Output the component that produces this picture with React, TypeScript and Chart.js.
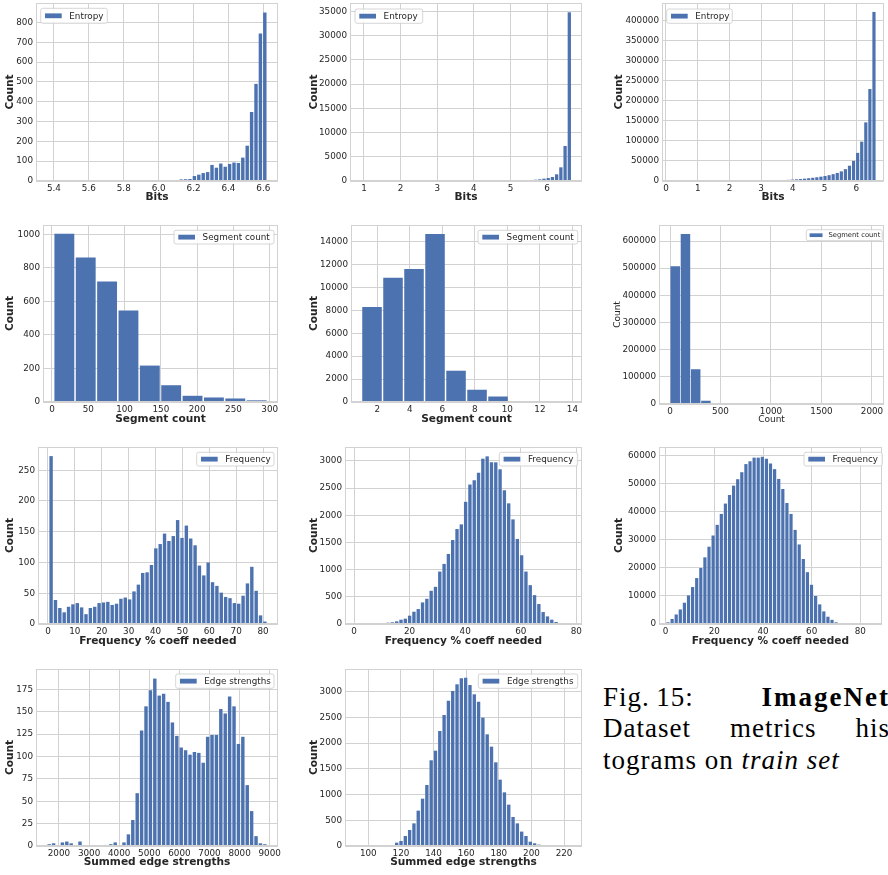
import React, { useEffect, useRef } from "react";
import { Chart, registerables } from "chart.js";

Chart.register(...registerables);

const BAR_COLOR = "#4c72b0";
const GRID_COLOR = "#d2d2d2";
const TEXT_COLOR = "#262626";
const SANS = "'DejaVu Sans', sans-serif";
const SERIF = "'Liberation Serif', 'Times New Roman', serif";

// ---------- Row 1: Entropy (Bits) ----------
const entropySmallXTicks = [5.4, 5.6, 5.8, 6.0, 6.2, 6.4, 6.6];
const entropySmallYTicks = [0, 100, 200, 300, 400, 500, 600, 700, 800];
const entropySmallStart = 5.36;
const entropySmallWidth = 0.02522;
const entropySmallCounts = [
  1, 0, 0, 0, 0, 0, 0, 0, 0, 1, 0, 0, 0, 0, 1, 0, 0, 1, 0, 0, 1, 0, 1, 1, 2, 1,
  2, 3, 4, 5, 8, 9, 10, 25, 32, 40, 45, 81, 67, 88, 72, 86, 93, 91, 118, 178,
  348, 490, 744, 850,
];

const entropyValXTicks = [1, 2, 3, 4, 5, 6];
const entropyValYTicks = [0, 5000, 10000, 15000, 20000, 25000, 30000, 35000];
const entropyValStart = 0.906;
const entropyValWidth = 0.1152;
const entropyValCounts = [
  1, 0, 0, 0, 0, 1, 0, 0, 0, 0, 1, 0, 0, 1, 0, 0, 1, 0, 1, 1, 1, 2, 2, 2, 3, 3,
  4, 5, 6, 8, 10, 14, 18, 24, 32, 42, 55, 70, 100, 140, 200, 270, 345, 480, 620,
  830, 1380, 2825, 7230, 34800,
];

const entropyTrainXTicks = [0, 1, 2, 3, 4, 5, 6];
const entropyTrainYTicks = [0, 50000, 100000, 150000, 200000, 250000, 300000, 350000, 400000];
const entropyTrainStart = 0.19;
const entropyTrainWidth = 0.1286;
const entropyTrainCounts = [
  800, 20, 25, 30, 30, 35, 40, 45, 50, 55, 60, 70, 80, 90, 100, 130, 160, 200,
  260, 330, 420, 540, 700, 900, 1150, 1450, 1850, 2300, 2850, 3500, 4200, 5000,
  5900, 6900, 8000, 9300, 10800, 12500, 14500, 17000, 20000, 24000, 29500,
  38000, 50000, 70000, 98000, 146000, 229000, 421000,
];

// ---------- Row 2: Segment count ----------
const segSmallXTicks = [0, 50, 100, 150, 200, 250, 300];
const segSmallYTicks = [0, 200, 400, 600, 800, 1000];
const segSmallStart = 2.3;
const segSmallWidth = 29.44;
const segSmallCounts = [1003, 862, 718, 546, 217, 100, 37, 27, 21, 10];

const segValXTicks = [2, 4, 6, 8, 10, 12, 14];
const segValYTicks = [0, 2000, 4000, 6000, 8000, 10000, 12000, 14000];
const segValStart = 1.028;
const segValWidth = 1.292;
const segValCounts = [8280, 10850, 11600, 14650, 2730, 1070, 480, 15, 3, 1];

const segTrainXTicks = [0, 500, 1000, 1500, 2000];
const segTrainYTicks = [0, 100000, 200000, 300000, 400000, 500000, 600000];
const segTrainStart = 1;
const segTrainWidth = 101.3;
const segTrainCounts = [
  507000, 626000, 128000, 12000, 1500, 300, 80, 30, 12, 6, 3, 2, 1, 1, 1, 0, 0, 1, 0, 1,
];

// ---------- Row 3: Frequency % coeff needed ----------
const freqSmallXTicks = [0, 10, 20, 30, 40, 50, 60, 70, 80];
const freqSmallYTicks = [0, 50, 100, 150, 200, 250];
const freqSmallStart = 0.35;
const freqSmallWidth = 1.623;
const freqSmallCounts = [
  273, 39, 26, 19, 28, 32, 34, 27, 16, 26, 28, 34, 35, 36, 31, 33, 41, 43, 40,
  53, 64, 83, 84, 96, 123, 130, 147, 135, 143, 169, 140, 160, 139, 128, 95, 79,
  100, 68, 62, 51, 44, 42, 34, 33, 46, 66, 93, 54, 14, 4,
];

const freqValXTicks = [0, 20, 40, 60, 80];
const freqValYTicks = [0, 500, 1000, 1500, 2000, 2500, 3000];
const freqValStart = 0.64;
const freqValWidth = 1.55;
const freqValCounts = [
  0, 0, 1, 2, 3, 6, 18, 24, 31, 49, 79, 98, 153, 226, 275, 397, 464, 611, 684,
  965, 1106, 1289, 1545, 1747, 1833, 2248, 2566, 2645, 2785, 3042, 3085, 2975,
  2975, 2847, 2462, 2220, 1925, 1565, 1265, 965, 715, 531, 367, 220, 140, 80,
  37, 18, 6, 2,
];

const freqTrainXTicks = [0, 20, 40, 60, 80];
const freqTrainYTicks = [0, 10000, 20000, 30000, 40000, 50000, 60000];
const freqTrainStart = 0.12;
const freqTrainWidth = 1.685;
const freqTrainCounts = [
  600, 1800, 3400, 5200, 7600, 10200, 13200, 16400, 20000, 23800, 27600, 31600,
  35400, 39300, 43000, 46100, 49400, 51700, 54200, 57100, 58100, 59400, 59400,
  59700, 59000, 57300, 55300, 51800, 48200, 43200, 39300, 33600, 28400, 23200,
  18500, 14000, 10000, 7000, 4500, 2600, 1500, 600, 200, 80, 30, 10, 5, 2, 1, 1,
];

// ---------- Row 4: Summed edge strengths ----------
const edgeSmallXTicks = [2000, 3000, 4000, 5000, 6000, 7000, 8000, 9000];
const edgeSmallYTicks = [0, 25, 50, 75, 100, 125, 150, 175];
const edgeSmallStart = 1602;
const edgeSmallWidth = 146.2;
const edgeSmallCounts = [
  2, 3, 0, 4, 5, 3, 0, 5, 0, 1, 1, 0, 0, 0, 2, 4, 0, 4, 13, 29, 59, 129, 156,
  174, 187, 168, 170, 161, 138, 123, 110, 107, 102, 105, 104, 93, 122, 124, 124,
  153, 148, 167, 156, 114, 122, 68, 39, 11, 3, 2,
];

const edgeValXTicks = [100, 120, 140, 160, 180, 200, 220];
const edgeValYTicks = [0, 500, 1000, 1500, 2000, 2500, 3000];
const edgeValStart = 92.3;
const edgeValWidth = 2.642;
const edgeValCounts = [
  1, 0, 0, 1, 1, 2, 4, 8, 20, 65, 97, 194, 311, 440, 687, 920, 1186, 1666, 1853,
  2236, 2547, 2826, 3014, 3143, 3260, 3270, 3130, 2949, 2806, 2495, 2171, 1931,
  1627, 1290, 1043, 804, 564, 440, 280, 194, 84, 52, 26, 20, 8, 4, 2, 1, 1, 1,
];

type Spec = {
  id: string;
  box: [number, number, number, number];
  xRange: [number, number];
  yMax: number;
  xTicks: number[];
  yTicks: number[];
  xDecimals: number;
  binStart: number;
  binWidth: number;
  counts: number[];
  label: string;
  xTitle: string;
  yTitle: string;
  bold: boolean;
  titleSize: number;
  xTitleY: number;
  yTitleX: number;
  legendBox: [number, number, number, number];
  legendSize: number;
  barPct: number;
};

const TICK_SIZE = 8.8;

const specs: Spec[] = [
  {
    id: "c1", box: [36, 3, 278, 181], xRange: [5.297, 6.684], yMax: 898,
    xTicks: entropySmallXTicks, yTicks: entropySmallYTicks, xDecimals: 1,
    binStart: entropySmallStart, binWidth: entropySmallWidth, counts: entropySmallCounts,
    label: "Entropy", xTitle: "Bits", yTitle: "Count", bold: true, titleSize: 10.6,
    xTitleY: 197, yTitleX: 10, legendBox: [40.7, 8.3, 107.3, 23.3], legendSize: 8.8, barPct: 0.78,
  },
  {
    id: "c2", box: [350, 3, 582, 181], xRange: [0.618, 6.955], yMax: 36722,
    xTicks: entropyValXTicks, yTicks: entropyValYTicks, xDecimals: 0,
    binStart: entropyValStart, binWidth: entropyValWidth, counts: entropyValCounts,
    label: "Entropy", xTitle: "Bits", yTitle: "Count", bold: true, titleSize: 10.6,
    xTitleY: 197, yTitleX: 314, legendBox: [355, 9, 422.7, 23.3], legendSize: 8.8, barPct: 0.78,
  },
  {
    id: "c3", box: [662, 3, 884, 181], xRange: [-0.126, 6.872], yMax: 443243,
    xTicks: entropyTrainXTicks, yTicks: entropyTrainYTicks, xDecimals: 0,
    binStart: entropyTrainStart, binWidth: entropyTrainWidth, counts: entropyTrainCounts,
    label: "Entropy", xTitle: "Bits", yTitle: "Count", bold: true, titleSize: 10.6,
    xTitleY: 197, yTitleX: 619, legendBox: [666.7, 9, 732.3, 23.3], legendSize: 8.8, barPct: 0.78,
  },
  {
    id: "c4", box: [43, 225, 278, 402], xRange: [-12.4, 311.4], yMax: 1055,
    xTicks: segSmallXTicks, yTicks: segSmallYTicks, xDecimals: 0,
    binStart: segSmallStart, binWidth: segSmallWidth, counts: segSmallCounts,
    label: "Segment count", xTitle: "Segment count", yTitle: "Count", bold: true, titleSize: 10.6,
    xTitleY: 419, yTitleX: 10, legendBox: [174, 230.3, 274, 244], legendSize: 8.8, barPct: 0.93,
  },
  {
    id: "c5", box: [351, 225, 582, 402], xRange: [0.382, 14.59], yMax: 15445,
    xTicks: segValXTicks, yTicks: segValYTicks, xDecimals: 0,
    binStart: segValStart, binWidth: segValWidth, counts: segValCounts,
    label: "Segment count", xTitle: "Segment count", yTitle: "Count", bold: true, titleSize: 10.6,
    xTitleY: 419, yTitleX: 314, legendBox: [478, 230.3, 577.7, 244], legendSize: 8.8, barPct: 0.93,
  },
  {
    id: "c6", box: [659, 225, 884, 404], xRange: [-109, 2119], yMax: 659000,
    xTicks: segTrainXTicks, yTicks: segTrainYTicks, xDecimals: 0,
    binStart: segTrainStart, binWidth: segTrainWidth, counts: segTrainCounts,
    label: "Segment count", xTitle: "Count", yTitle: "Count", bold: false, titleSize: 9,
    xTitleY: 420, yTitleX: 617.7, legendBox: [806.3, 229.7, 882.3, 240.7], legendSize: 6.8, barPct: 0.93,
  },
  {
    id: "c7", box: [38, 447, 278, 624], xRange: [-3.71, 85.56], yMax: 287.8,
    xTicks: freqSmallXTicks, yTicks: freqSmallYTicks, xDecimals: 0,
    binStart: freqSmallStart, binWidth: freqSmallWidth, counts: freqSmallCounts,
    label: "Frequency", xTitle: "Frequency % coeff needed", yTitle: "Count", bold: true, titleSize: 10.6,
    xTitleY: 641, yTitleX: 10, legendBox: [196.7, 452.3, 274, 466], legendSize: 8.8, barPct: 0.78,
  },
  {
    id: "c8", box: [345, 447, 582, 624], xRange: [-3.24, 82.04], yMax: 3257,
    xTicks: freqValXTicks, yTicks: freqValYTicks, xDecimals: 0,
    binStart: freqValStart, binWidth: freqValWidth, counts: freqValCounts,
    label: "Frequency", xTitle: "Frequency % coeff needed", yTitle: "Count", bold: true, titleSize: 10.6,
    xTitleY: 641, yTitleX: 314, legendBox: [499.3, 452.3, 577.7, 466], legendSize: 8.8, barPct: 0.78,
  },
  {
    id: "c9", box: [659, 447, 882, 624], xRange: [-2.74, 88.9], yMax: 63200,
    xTicks: freqTrainXTicks, yTicks: freqTrainYTicks, xDecimals: 0,
    binStart: freqTrainStart, binWidth: freqTrainWidth, counts: freqTrainCounts,
    label: "Frequency", xTitle: "Frequency % coeff needed", yTitle: "Count", bold: true, titleSize: 10.6,
    xTitleY: 641, yTitleX: 619, legendBox: [804, 452.3, 882.3, 466], legendSize: 8.8, barPct: 0.78,
  },
  {
    id: "c10", box: [36, 669, 278, 846], xRange: [1237, 9276], yMax: 197.7,
    xTicks: edgeSmallXTicks, yTicks: edgeSmallYTicks, xDecimals: 0,
    binStart: edgeSmallStart, binWidth: edgeSmallWidth, counts: edgeSmallCounts,
    label: "Edge strengths", xTitle: "Summed edge strengths", yTitle: "Count", bold: true, titleSize: 10.6,
    xTitleY: 862.7, yTitleX: 10, legendBox: [175.7, 674, 274, 688.3], legendSize: 8.8, barPct: 0.78,
  },
  {
    id: "c11", box: [345, 669, 582, 846], xRange: [85.7, 231], yMax: 3441,
    xTicks: edgeValXTicks, yTicks: edgeValYTicks, xDecimals: 0,
    binStart: edgeValStart, binWidth: edgeValWidth, counts: edgeValCounts,
    label: "Edge strengths", xTitle: "Summed edge strengths", yTitle: "Count", bold: true, titleSize: 10.6,
    xTitleY: 862.7, yTitleX: 314, legendBox: [478.3, 674, 577.7, 688.3], legendSize: 8.8, barPct: 0.78,
  },
];

function Hist({ s }: { s: Spec }) {
  const ref = useRef<HTMLCanvasElement | null>(null);
  const [L, T, R, B] = s.box;
  const lh = s.titleSize * 1.2;
  const cL = Math.floor(s.yTitleX - lh / 2 - 1);
  const cT = T - 6;
  const cR = R + 20;
  const cB = Math.ceil(s.xTitleY + lh / 2 + 1);
  const W = cR - cL;
  const H = cB - cT;
  const yAxisW = L - cL;
  const xAxisH = cB - B;
  const yTitlePad = s.yTitleX - lh / 2 - cL;
  const xTitlePad = cB - (s.xTitleY + lh / 2);

  useEffect(() => {
    const canvas = ref.current;
    if (!canvas) return;
    const data = s.counts.map((c, i) => ({ x: s.binStart + (i + 0.5) * s.binWidth, y: c }));
    const titleFont = { family: SANS, size: s.titleSize, weight: s.bold ? "bold" : "normal" };
    const tickFont = { family: SANS, size: TICK_SIZE };

    const framePlugin = {
      id: "frameLegend" + s.id,
      afterDatasetsDraw(chart: any) {
        const { ctx, chartArea } = chart;
        ctx.save();
        ctx.strokeStyle = GRID_COLOR;
        ctx.lineWidth = 1;
        ctx.strokeRect(
          Math.round(chartArea.left) + 0.5,
          Math.round(chartArea.top) + 0.5,
          Math.round(chartArea.right - chartArea.left) - 1,
          Math.round(chartArea.bottom - chartArea.top) - 1
        );
        // legend
        const [lx0, ly0, lx1, ly1] = s.legendBox;
        const x0 = lx0 - cL, y0 = ly0 - cT, w = lx1 - lx0, h = ly1 - ly0;
        const r = 2;
        ctx.beginPath();
        ctx.moveTo(x0 + r, y0);
        ctx.lineTo(x0 + w - r, y0);
        ctx.arcTo(x0 + w, y0, x0 + w, y0 + r, r);
        ctx.lineTo(x0 + w, y0 + h - r);
        ctx.arcTo(x0 + w, y0 + h, x0 + w - r, y0 + h, r);
        ctx.lineTo(x0 + r, y0 + h);
        ctx.arcTo(x0, y0 + h, x0, y0 + h - r, r);
        ctx.lineTo(x0, y0 + r);
        ctx.arcTo(x0, y0, x0 + r, y0, r);
        ctx.closePath();
        ctx.fillStyle = "rgba(255,255,255,0.85)";
        ctx.fill();
        ctx.strokeStyle = "#cccccc";
        ctx.lineWidth = 0.8;
        ctx.stroke();
        const k = s.legendSize / 8.8;
        const cy = y0 + h / 2;
        ctx.fillStyle = BAR_COLOR;
        ctx.fillRect(x0 + 4.3 * k, cy - 2.4 * k, 16.7 * k, 4.8 * k);
        ctx.fillStyle = TEXT_COLOR;
        ctx.font = `${s.legendSize}px ${SANS}`;
        ctx.textBaseline = "middle";
        ctx.textAlign = "left";
        ctx.fillText(s.label, x0 + 28.6 * k, cy + 0.5);
        ctx.restore();
      },
    };

    const chart = new Chart(canvas, {
      type: "bar",
      data: {
        datasets: [
          {
            label: s.label,
            data,
            backgroundColor: BAR_COLOR,
            borderWidth: 0,
            barPercentage: s.barPct,
            categoryPercentage: 1,
          },
        ],
      },
      options: {
        responsive: false,
        animation: false,
        devicePixelRatio: 1,
        layout: { padding: { left: 0, top: 6, right: 20, bottom: 0 } },
        plugins: { legend: { display: false }, tooltip: { enabled: false } },
        scales: {
          x: {
            type: "linear",
            min: s.xRange[0],
            max: s.xRange[1],
            offset: false,
            grid: { color: GRID_COLOR, lineWidth: 1, drawTicks: false, offset: false },
            border: { display: false },
            ticks: {
              autoSkip: false,
              maxRotation: 0,
              minRotation: 0,
              padding: 2,
              color: TEXT_COLOR,
              font: tickFont,
              callback: (v: any) => Number(v).toFixed(s.xDecimals),
            },
            afterBuildTicks: (sc: any) => {
              sc.ticks = s.xTicks.map((v) => ({ value: v }));
            },
            afterFit: (sc: any) => {
              sc.height = xAxisH;
              sc.paddingLeft = 0;
              sc.paddingRight = 0;
            },
            title: {
              display: true,
              text: s.xTitle,
              color: TEXT_COLOR,
              font: titleFont,
              padding: { top: 0, bottom: xTitlePad },
            },
          },
          y: {
            type: "linear",
            min: 0,
            max: s.yMax,
            grid: { color: GRID_COLOR, lineWidth: 1, drawTicks: false },
            border: { display: false },
            ticks: {
              autoSkip: false,
              padding: 3,
              color: TEXT_COLOR,
              font: tickFont,
              callback: (v: any) => String(v),
            },
            afterBuildTicks: (sc: any) => {
              sc.ticks = s.yTicks.map((v) => ({ value: v }));
            },
            afterFit: (sc: any) => {
              sc.width = yAxisW;
              sc.paddingTop = 0;
              sc.paddingBottom = 0;
            },
            title: {
              display: true,
              text: s.yTitle,
              color: TEXT_COLOR,
              font: titleFont,
              padding: { top: yTitlePad, bottom: 0 },
            },
          },
        },
      } as any,
      plugins: [framePlugin],
    });
    return () => chart.destroy();
  }, []);

  return (
    <canvas
      ref={ref}
      width={W}
      height={H}
      style={{ position: "absolute", left: cL, top: cT, width: W, height: H }}
    />
  );
}

function Caption() {
  const base: React.CSSProperties = {
    position: "absolute",
    left: 603,
    width: 287,
    fontFamily: SERIF,
    fontSize: 27,
    lineHeight: "27px",
    letterSpacing: 1,
    color: "#000",
    whiteSpace: "nowrap",
  };
  return (
    <>
      <div style={{ ...base, top: 684, display: "flex", justifyContent: "space-between" }}>
        <span>Fig.{"\u2009"}15:</span>
        <span style={{ fontWeight: "bold", letterSpacing: 2 }}>ImageNet</span>
      </div>
      <div style={{ ...base, top: 715, display: "flex", justifyContent: "space-between" }}>
        <span>Dataset</span>
        <span>metrics</span>
        <span>his</span>
      </div>
      <div style={{ ...base, top: 747 }}>
        tograms on <i>train set</i>
      </div>
    </>
  );
}

export default function App() {
  return (
    <div
      style={{
        position: "absolute",
        left: 0,
        top: 0,
        width: 888,
        height: 875,
        overflow: "hidden",
        background: "#ffffff",
      }}
    >
      {specs.map((s) => (
        <Hist key={s.id} s={s} />
      ))}
      <Caption />
    </div>
  );
}
